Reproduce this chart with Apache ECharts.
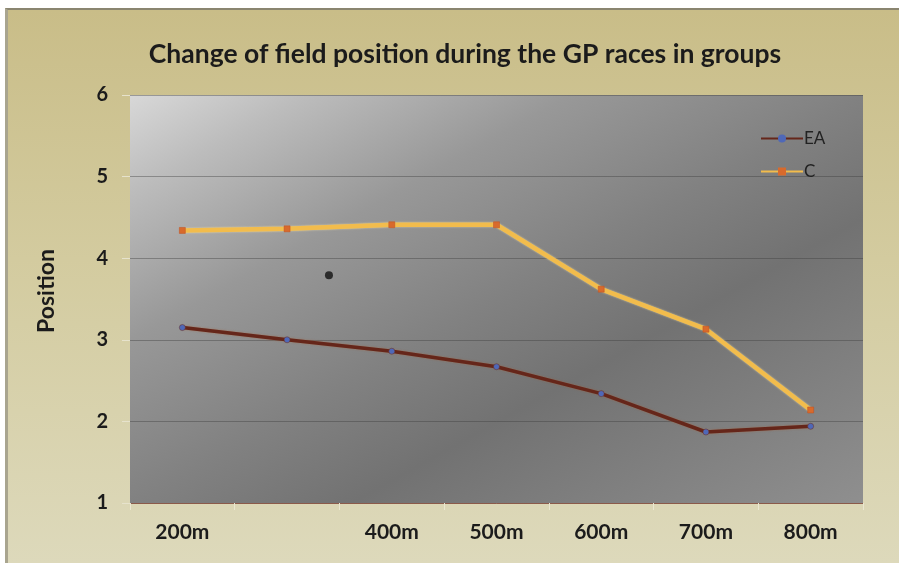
<!DOCTYPE html>
<html>
<head>
<meta charset="utf-8">
<script src="https://cdn.jsdelivr.net/npm/echarts@6/dist/echarts.min.js"></script>
<style>
html,body{margin:0;padding:0;background:#ffffff;}
#frame{position:absolute;left:5px;top:8px;width:894px;height:555px;
  border-top:2px solid #8a8570;border-left:3px solid #a9a58f;box-sizing:border-box;
  background:linear-gradient(180deg,#c9bd88 0%,#d3cb9f 45%,#ddd9bb 100%);}
#chart{position:absolute;left:0;top:0;width:899px;height:563px;}
</style>
</head>
<body>
<div id="frame"></div>
<div id="chart"></div>
<script>
const categories = ['200m', '300m', '400m', '500m', '600m', '700m', '800m'];
const categoryLabels = ['200m', '', '400m', '500m', '600m', '700m', '800m'];
const seriesEA = [3.15, 3.00, 2.86, 2.67, 2.34, 1.87, 1.94];
const seriesC = [4.34, 4.36, 4.41, 4.41, 3.62, 3.13, 2.14];
const yTicks = [1, 2, 3, 4, 5, 6];
const asteriskAt = [1.4, 3.79];

const chart = echarts.init(document.getElementById('chart'), null, {renderer: 'canvas'});
const font = 'Lato, "Open Sans", sans-serif';
chart.setOption({
  backgroundColor: 'transparent',
  animation: false,
  title: {
    text: 'Change of field position during the GP races in groups',
    left: 460, top: 36, textAlign: 'center',
    textStyle: {fontFamily: font, fontWeight: 'bold', fontSize: 26.5, color: '#1b1b1b'}
  },
  legend: {
    orient: 'vertical', left: 755, top: 125,
    itemWidth: 42, itemHeight: 10, itemGap: 16,
    itemStyle: {borderWidth: 0},
    textStyle: {fontFamily: font, fontSize: 17, color: '#222', padding: [0,0,0,-4]},
    data: ['EA', 'C']
  },
  grid: {left: 130, right: 36, top: 95, bottom: 60,
    show: true, borderWidth: 0,
    backgroundColor: {type: 'linear', x: 0, y: 0, x2: 0.474, y2: 1.53, colorStops: [
      {offset: 0, color: '#d8d8d8'},
      {offset: 0.12, color: '#bcbcbc'},
      {offset: 0.3, color: '#989898'},
      {offset: 0.5, color: '#818181'},
      {offset: 0.65, color: '#727272'},
      {offset: 1, color: '#8f8f8f'}
    ]}
  },
  xAxis: [{
    type: 'category', data: categories, boundaryGap: true,
    axisLine: {lineStyle: {color: '#8b5a4a', width: 1}},
    axisTick: {show: true, length: 7, lineStyle: {color: '#ebe7d0'}},
    axisLabel: {margin: 19, fontFamily: font, fontWeight: 'bold', fontSize: 21, color: '#1b1b1b',
      formatter: (v, i) => categoryLabels[i]}
  }, {
    type: 'value', min: -0.5, max: categories.length - 0.5, show: false
  }],
  yAxis: {
    type: 'value', min: yTicks[0], max: yTicks[yTicks.length - 1], interval: 1,
    name: 'Position', nameLocation: 'middle', nameGap: 72, nameRotate: 90,
    nameTextStyle: {fontFamily: font, fontWeight: 'bold', fontSize: 23, color: '#1b1b1b', padding: [0, 0, 0, 16]},
    axisLine: {show: false, onZero: false},
    axisTick: {show: true, length: 8, lineStyle: {color: '#e6e2cc'}},
    axisLabel: {margin: 22, fontFamily: font, fontWeight: 'bold', fontSize: 20, color: '#1b1b1b'},
    splitLine: {show: true, lineStyle: {color: 'rgba(60,60,60,0.4)', width: 1}}
  },
  series: [
    {
      name: 'EA', type: 'line', data: seriesEA,
      symbol: 'circle', symbolSize: 6,
      itemStyle: {color: '#4f68b8', borderColor: '#6a2a1c', borderWidth: 0.5},
      lineStyle: {color: '#65261a', width: 3.5, shadowColor: 'rgba(180,90,40,0.5)', shadowBlur: 2},
      z: 3
    },
    {
      name: 'C', type: 'line', data: seriesC,
      symbol: 'rect', symbolSize: 6,
      itemStyle: {color: '#d86a2c', borderColor: '#c05020', borderWidth: 0.5},
      lineStyle: {color: '#f2bc4c', width: 4.5, shadowColor: 'rgba(255,235,170,0.7)', shadowBlur: 2},
      z: 4
    },
    {
      name: 'asterisk', type: 'scatter', xAxisIndex: 1, data: [asteriskAt],
      symbol: 'circle', symbolSize: 8, itemStyle: {color: '#111'},
      silent: true, z: 5
    }
  ]
});
</script>
</body>
</html>
